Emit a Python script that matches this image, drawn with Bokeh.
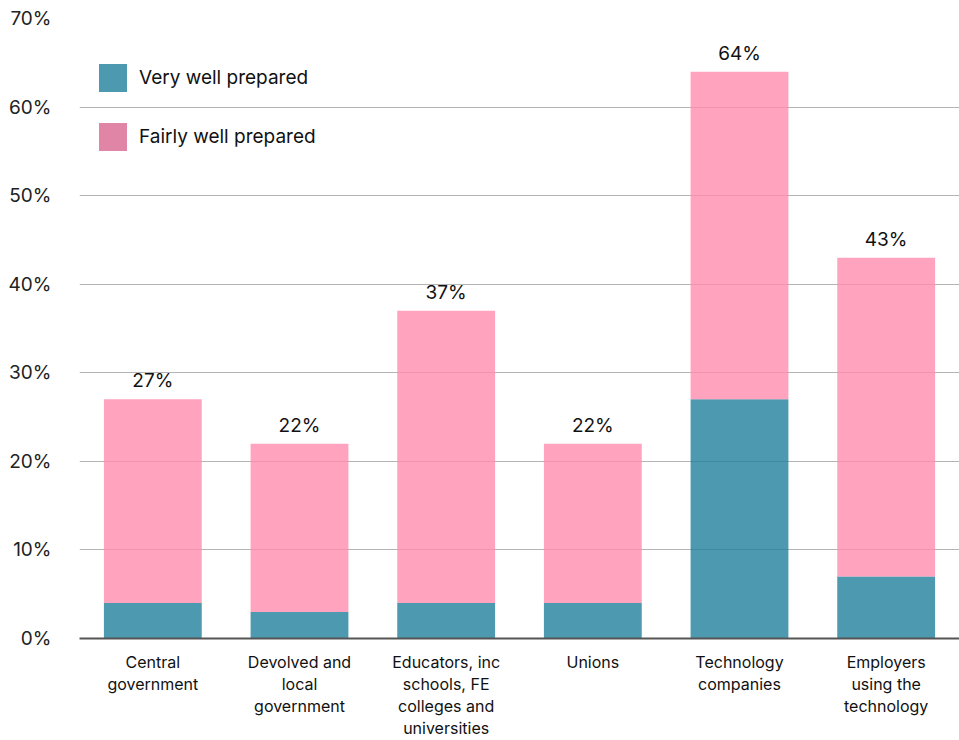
from bokeh.plotting import figure
from bokeh.models import ColumnDataSource, FixedTicker, PrintfTickFormatter, Legend, LegendItem
from bokeh.core.properties import value
from bokeh.embed import file_html
from bokeh.resources import INLINE

categories = ["Central\ngovernment", "Devolved and\nlocal\ngovernment",
              "Educators, inc\nschools, FE\ncolleges and\nuniversities", "Unions",
              "Technology\ncompanies", "Employers\nusing the\ntechnology"]
very_well = [4, 3, 4, 4, 27, 7]
fairly_well = [23, 19, 33, 18, 37, 36]
totals = [v + f for v, f in zip(very_well, fairly_well)]
total_labels = [f"{t}%" for t in totals]
y_ticks = [0, 10, 20, 30, 40, 50, 60, 70]

FONT = "Inter"
TEAL_BAR = "#1F809C"
PINK_BAR = "#FF8CAE"
TEAL_LEG = "#4C99B0"
PINK_LEG = "#E085A5"

src = ColumnDataSource(dict(cat=categories, very=very_well, fairly=fairly_well,
                            total=totals, label=total_labels))

p = figure(x_range=categories, y_range=(0, 70), width=959, height=740,
           output_backend="svg", toolbar_location=None,
           min_border_left=79, min_border_right=0, min_border_top=18, min_border_bottom=102)
p.outline_line_color = None

p.vbar_stack(["very", "fairly"], x="cat", width=0.667, source=src,
             color=[TEAL_BAR, PINK_BAR], fill_alpha=0.8, line_color=None)

p.text(x="cat", y="total", text="label", source=src, text_align="center",
       text_baseline="bottom", y_offset=-7, text_font=value(FONT),
       text_font_size="19px", text_color="#111111")

# legend swatches (placed outside the visible range so only the legend shows them)
r1 = p.vbar(x=[categories[0]], top=[-2], bottom=[-3], width=0.5,
            fill_color=TEAL_LEG, line_color=None)
r2 = p.vbar(x=[categories[0]], top=[-2], bottom=[-3], width=0.5,
            fill_color=PINK_LEG, line_color=None)
legend = Legend(items=[LegendItem(label="Very well prepared", renderers=[r1]),
                       LegendItem(label="Fairly well prepared", renderers=[r2])],
                location=(16, 484), glyph_width=35, glyph_height=35, spacing=24,
                label_standoff=9, padding=0, margin=0, border_line_color=None,
                background_fill_alpha=0, label_text_font=FONT,
                label_text_font_size="19px", label_text_color="#111111")
p.add_layout(legend, "center")

p.ygrid.ticker = FixedTicker(ticks=y_ticks)
p.ygrid.grid_line_color = "#B4B4B4"
p.ygrid.grid_line_width = 1
p.xgrid.grid_line_color = None

p.yaxis.ticker = FixedTicker(ticks=y_ticks)
p.yaxis.formatter = PrintfTickFormatter(format="%d%%")
p.yaxis.axis_line_color = None
p.yaxis.major_tick_line_color = None
p.yaxis.minor_tick_line_color = None
p.yaxis.major_label_text_font = FONT
p.yaxis.major_label_text_font_size = "19px"
p.yaxis.major_label_text_color = "#222222"
p.yaxis.major_label_standoff = 22

p.xaxis.axis_line_color = "#555555"
p.xaxis.axis_line_width = 2
p.xaxis.major_tick_line_color = None
p.xaxis.minor_tick_line_color = None
p.xaxis.major_label_text_font = FONT
p.xaxis.major_label_text_font_size = "16px"
p.xaxis.major_label_text_color = "#111111"
p.xaxis.major_label_standoff = 7
p.xaxis.major_label_text_line_height = 1.1

open("out.html", "w").write(file_html(p, INLINE))
